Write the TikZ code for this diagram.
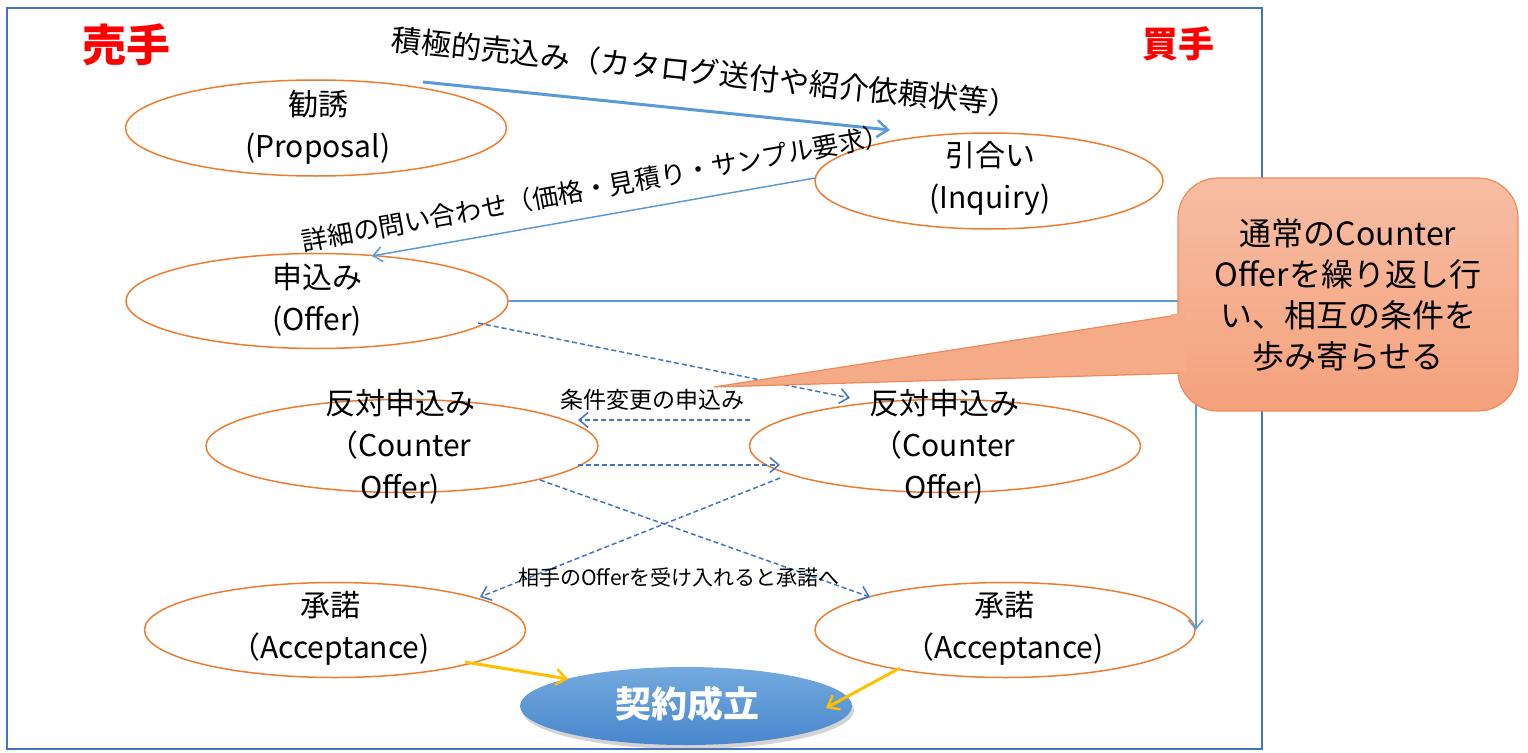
\documentclass[tikz,border=0pt]{standalone}
\usepackage{fontspec}
\setmainfont{Noto Sans CJK JP}
\usetikzlibrary{shapes.geometric,arrows.meta,calc,shadows}
\definecolor{ovalor}{HTML}{ED7D31}
\definecolor{lblue}{HTML}{5B9BD5}
\definecolor{dblue}{HTML}{4472C4}
\definecolor{gold}{HTML}{FFC000}
\definecolor{calltop}{HTML}{F7BDA3}
\definecolor{callbot}{HTML}{F4A27C}
\definecolor{callmid}{HTML}{F5AB88}
\definecolor{callline}{HTML}{EE8A5A}
\definecolor{ktop}{HTML}{74AADF}
\definecolor{kbot}{HTML}{4886CC}
\begin{document}
\begin{tikzpicture}[x=1pt,y=-1pt,
  oval/.style={ellipse,draw=ovalor,line width=1.5pt,inner sep=0pt},
  lbl/.style={align=center,inner sep=0pt,font=\fontsize{30}{42}\selectfont},
  tip/.style={-{Straight Barb[length=9pt,width=15pt,line width=1.5pt]}},
  solidarr/.style={draw=lblue,line width=1.5pt,tip},
  dasharr/.style={draw=dblue,line width=1.5pt,dash pattern=on 5pt off 3pt,tip},
  goldarr/.style={draw=gold,line width=3pt,-{Straight Barb[length=10pt,width=16pt,line width=2.5pt]}},
  redlbl/.style={text=red,inner sep=0pt,font=\bfseries}
]
\useasboundingbox (0,0) rectangle (1528,752);
% frame
\node[draw=dblue,line width=1.5pt,minimum width=1255pt,minimum height=741pt,inner sep=0pt] (frame) at (634.5,378.5) {};

% ellipses
\node[oval,minimum width=381pt,minimum height=96pt] (prop) at (316,128) {};
\node[oval,minimum width=348pt,minimum height=96pt] (inq) at (989,181) {};
\node[oval,minimum width=382pt,minimum height=95pt] (off) at (317,301) {};
\node[oval,minimum width=392pt,minimum height=93pt] (co1) at (402,446) {};
\node[oval,minimum width=391pt,minimum height=93pt] (co2) at (945,446) {};
\node[oval,minimum width=381pt,minimum height=95pt] (acc1) at (335,630) {};
\node[oval,minimum width=380pt,minimum height=95pt] (acc2) at (1005,630) {};
\node[ellipse,minimum width=332pt,minimum height=78pt,inner sep=0pt,
      top color=ktop,bottom color=kbot,
      drop shadow={opacity=0.35,shadow xshift=2pt,shadow yshift=-4pt}] (kei) at (686,706) {};

% offer -> acceptance (right), passing behind the callout
\draw[solidarr] (off.east) -| (acc2.east);

% connectors
\draw[draw=lblue,line width=3pt,-{Straight Barb[length=11pt,width=17pt,line width=2.5pt]}]
  ($(prop.center)+(107,-46)$) -- ($(inq.center)+(-99,-51)$);
\draw[solidarr] ($(inq.center)+(-174,-3)$) -- ($(off.center)+(55,-45)$);
\draw[dasharr] ($(off.center)+(161,22)$) -- ($(co2.center)+(-95,-48)$);
\draw[dasharr] ($(co2.center)+(-195,-26)$) -- ($(co1.center)+(176,-26)$);
\draw[dasharr] ($(co1.center)+(176,19)$) -- ($(co2.center)+(-165,19)$);
\draw[dasharr] ($(co1.center)+(138,34)$) -- ($(acc2.center)+(-135,-33)$);
\draw[dasharr] ($(co2.center)+(-165,32)$) -- ($(acc1.center)+(145,-33)$);
\draw[goldarr] ($(acc1.center)+(130,32)$) -- ($(kei.center)+(-118,-27)$);
\draw[goldarr] ($(acc2.center)+(-105,38)$) -- ($(kei.center)+(140,2)$);

% callout: pointer, rounded box, then a strip hiding the seam
\coordinate (ptip) at (714,387);
\filldraw[fill=callmid,draw=callline,line width=1.2pt,line join=round]
  (1190,313) -- (ptip) -- (1190,373) -- cycle;
\node[draw=callline,line width=1.2pt,rounded corners=40pt,top color=calltop,bottom color=callbot,
      minimum width=340pt,minimum height=233pt,inner sep=0pt] (callbox) at (1348,294.5) {};
\fill[callmid] (1171,314.2) rectangle (1186,371.8);
\node[align=center,inner sep=0pt,font=\fontsize{32}{41}\selectfont] (calltext) at (callbox.center)
  {通常のCounter\\Offerを繰り返し行\\い、相互の条件を\\歩み寄らせる};

% ellipse texts
\node[lbl] (tprop) at (318,127) {勧誘\\(Proposal)};
\node[lbl] (tinq) at (990,178) {引合い\\(Inquiry)};
\node[lbl] (toff) at (317,300) {申込み\\(Offer)};
\node[lbl] (tco1) at (400,447) {反対申込み\\（Counter\\Offer)};
\node[lbl] (tco2) at (944,447) {反対申込み\\（Counter\\Offer)};
\node[lbl] (tacc1) at (330,628) {承諾\\（Acceptance)};
\node[lbl] (tacc2) at (1004,628) {承諾\\（Acceptance)};
\node[inner sep=0pt,text=white,font=\fontsize{36}{40}\selectfont\bfseries] (tkei) at (687,704) {契約成立};

% titles
\node[redlbl,font=\fontsize{44}{48}\selectfont\bfseries] (seller) at (126,45) {売手};
\node[redlbl,font=\fontsize{36}{40}\selectfont\bfseries] (buyer) at (1178,44) {買手};

% connector labels
\node[inner sep=0pt,rotate=-6,font=\fontsize{30}{32}\selectfont] (la1) at (705,72) {積極的売込み（カタログ送付や紹介依頼状等）};
\node[inner sep=0pt,rotate=10.3,font=\fontsize{26}{30}\selectfont] (la2) at (596,188) {詳細の問い合わせ（価格・見積り・サンプル要求）};
\node[inner sep=0pt,font=\fontsize{23}{26}\selectfont] (lcond) at (652,400) {条件変更の申込み};
\node[inner sep=0pt,font=\fontsize{21}{24}\selectfont] (lacc) at (679,578) {相手のOfferを受け入れると承諾へ};
\end{tikzpicture}
\end{document}
